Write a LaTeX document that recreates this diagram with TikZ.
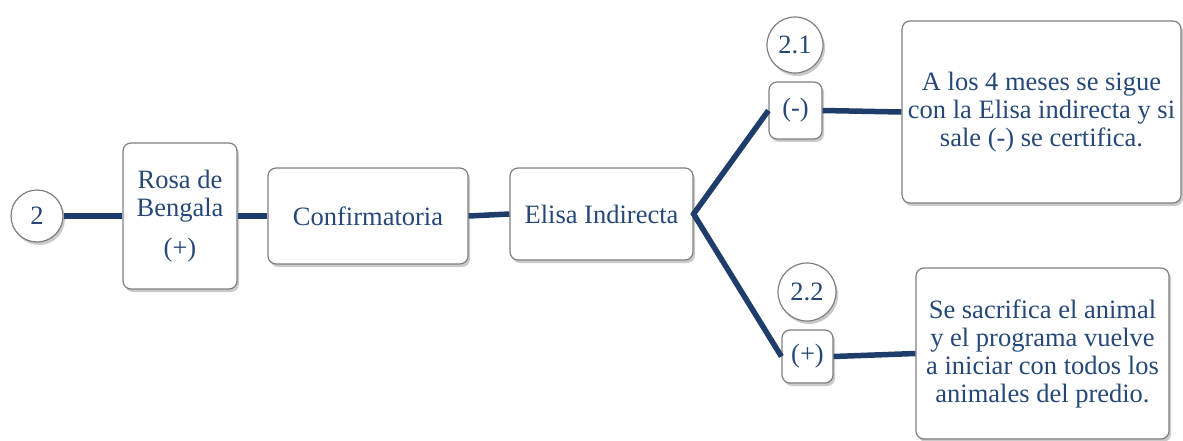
\documentclass[tikz,border=0pt]{standalone}
\usepackage{fontspec}
\setmainfont{Liberation Serif}
\usetikzlibrary{shadows}
\definecolor{txt}{HTML}{264878}
\definecolor{conn}{HTML}{1F3D6B}
\definecolor{bord}{HTML}{7F7F7F}
\tikzset{
  box/.style={draw=bord, line width=1.2pt, fill=white, rounded corners=8pt,
    align=center, text=txt, inner sep=2pt,
    font=\fontsize{26.5}{28}\selectfont,
    drop shadow={shadow xshift=2pt, shadow yshift=-3pt, opacity=0.35, fill=black!60}},
  circ/.style={box, circle, rounded corners=0pt},
  link/.style={draw=conn, line width=5.5pt}
}
\begin{document}
\begin{tikzpicture}[x=1pt,y=-1pt]
\useasboundingbox (0,0) rectangle (1183,441);
\node[circ, minimum size=52pt] (c2) at (37,216) {2};
\node[box, minimum width=114pt, minimum height=146pt] (rosa) at (180,216) {Rosa de\\Bengala\\[12pt](+)};
\node[box, minimum width=200pt, minimum height=96pt] (conf) at (368,216) {Confirmatoria};
\node[box, minimum width=183pt, minimum height=92pt] (elisa) at (601.5,214) {Elisa Indirecta};
\node[box, minimum width=53pt, minimum height=57pt] (minus) at (795.5,110.5) {(-)};
\node[circ, minimum size=56pt] (c21) at (795,45) {2.1};
\node[box, minimum width=279pt, minimum height=182pt] (big1) at (1041.5,112) {A los 4 meses se sigue\\con la Elisa indirecta y si\\sale (-) se certifica.};
\node[box, minimum width=51pt, minimum height=53pt] (plus) at (807.5,356.5) {(+)};
\node[circ, minimum size=58pt] (c22) at (807,292) {2.2};
\node[box, minimum width=253pt, minimum height=171pt] (big2) at (1042.5,353.5) {Se sacrifica el animal\\y el programa vuelve\\a iniciar con todos los\\animales del predio.};
\draw[link] (c2.east) -- (rosa.west);
\draw[link] (rosa.east) -- (conf.west);
\draw[link] (conf.east) -- (elisa.west);
\draw[link, line join=miter] (minus.west) -- (elisa.east) -- (plus.west);
\draw[link] (minus.east) -- (big1.west);
\draw[link] (plus.east) -- (big2.west);
\end{tikzpicture}
\end{document}
